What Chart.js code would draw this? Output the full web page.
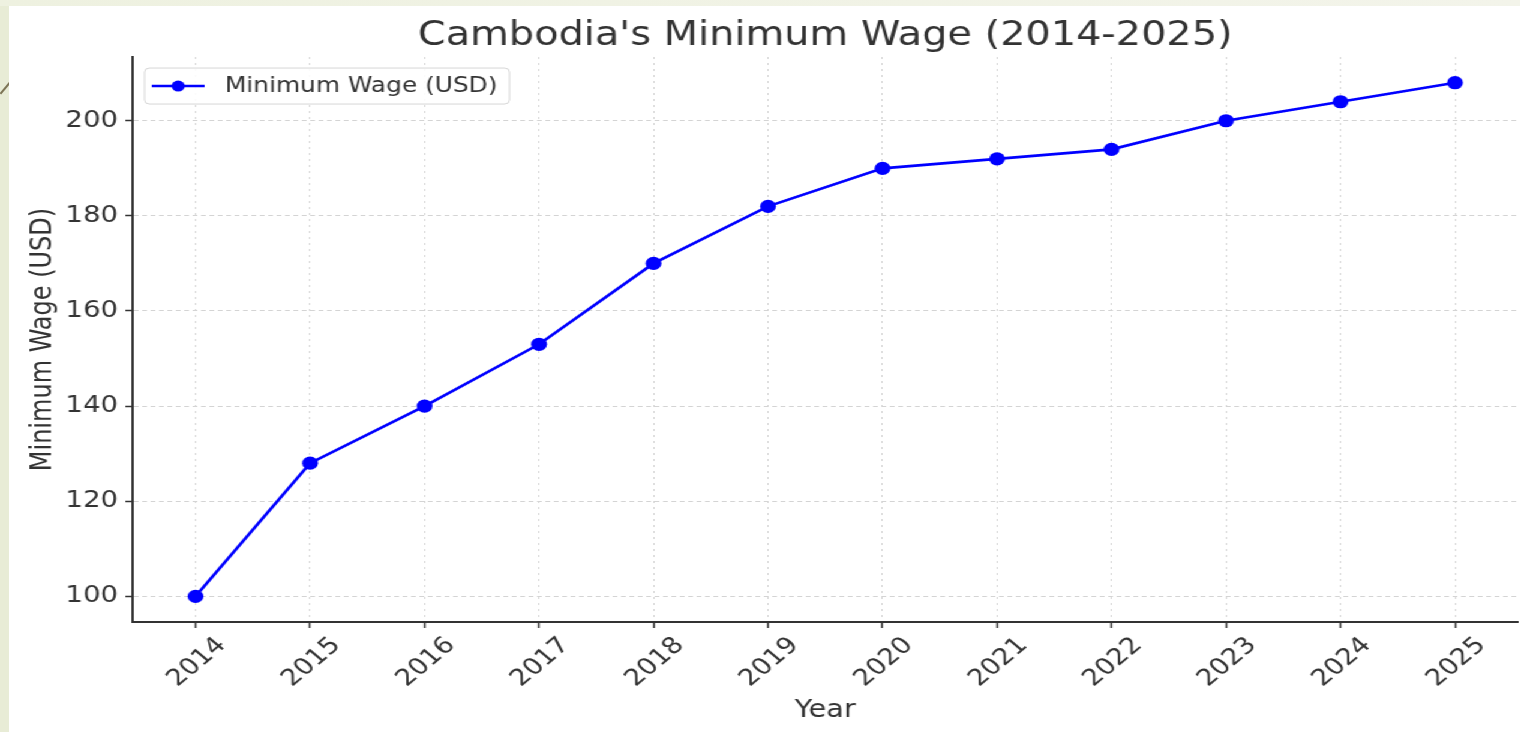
<!DOCTYPE html>
<html>
<head>
<meta charset="utf-8">
<title>Cambodia's Minimum Wage (2014-2025)</title>
<script src="https://cdn.jsdelivr.net/npm/chart.js@4"></script>
<style>
    html, body {
        margin: 0;
        padding: 0;
        width: 1520px;
        height: 732px;
        overflow: hidden;
        background: #e8ecd6;
    }
    #faixaTopo {
        position: absolute;
        left: 0;
        top: 0;
        width: 1520px;
        height: 6px;
        background: linear-gradient(to right, #eef1e0, #f3f4ea);
    }
    #traco {
        position: absolute;
        left: -3px;
        top: 86px;
        width: 18px;
        height: 1.5px;
        background: #7d7556;
        transform: rotate(-50deg);
    }
    #quadro {
        position: absolute;
        left: 9px;
        top: 6px;
        width: 1259px;
        height: 726px;
        background: #ffffff;
        transform: scaleX(1.2);
        transform-origin: left top;
    }
</style>
</head>
<body>
<div id="faixaTopo"></div>
<div id="traco"></div>
<div id="quadro">
    <canvas id="graficoSalario" width="1259" height="726"></canvas>
</div>

<script>
// dados
const anos = [2014, 2015, 2016, 2017, 2018, 2019, 2020, 2021, 2022, 2023, 2024, 2025];
const salarioMinimo = [100, 128, 140, 153, 170, 182, 190, 192, 194, 200, 204, 208];
const ticksY = [100, 120, 140, 160, 180, 200];

const fonte = "'DejaVu Sans', sans-serif";
const corTexto = "#333333";

// legenda dentro da area do grafico, como no matplotlib
const legendaInterna = {
    id: "legendaInterna",
    afterDraw(chart) {
        const ctx = chart.ctx;
        const area = chart.chartArea;
        const ds = chart.data.datasets[0];

        ctx.save();
        ctx.font = "20.7px " + fonte;
        const larguraTexto = ctx.measureText(ds.label).width;
        const x = area.left + 10;
        const y = area.top + 11;
        const w = 6 + 44 + 17 + larguraTexto + 10;
        const h = 36;

        ctx.beginPath();
        if (ctx.roundRect) ctx.roundRect(x, y, w, h, 4);
        else ctx.rect(x, y, w, h);
        ctx.fillStyle = "rgba(255,255,255,0.85)";
        ctx.fill();
        ctx.strokeStyle = "#d6d6d6";
        ctx.lineWidth = 1;
        ctx.stroke();

        const meio = y + h / 2;
        ctx.beginPath();
        ctx.moveTo(x + 6, meio);
        ctx.lineTo(x + 50, meio);
        ctx.strokeStyle = ds.borderColor;
        ctx.lineWidth = 2.5;
        ctx.stroke();

        ctx.beginPath();
        ctx.arc(x + 28, meio, 5.5, 0, Math.PI * 2);
        ctx.fillStyle = ds.pointBackgroundColor;
        ctx.fill();

        ctx.fillStyle = corTexto;
        ctx.textBaseline = "middle";
        ctx.textAlign = "left";
        ctx.fillText(ds.label, x + 67, meio + 1);
        ctx.restore();
    }
};

document.addEventListener("DOMContentLoaded", function () {

    const ctx = document.getElementById("graficoSalario");

    new Chart(ctx, {
        type: "line",
        data: {
            datasets: [{
                label: "Minimum Wage (USD)",
                data: anos.map((ano, i) => ({ x: ano, y: salarioMinimo[i] })),
                borderColor: "#0000ff",
                backgroundColor: "#0000ff",
                pointBackgroundColor: "#0000ff",
                pointBorderWidth: 0,
                pointRadius: 6.6,
                borderWidth: 2.7,
                tension: 0,
                clip: false
            }]
        },
        options: {
            responsive: false,
            animation: false,
            layout: {
                autoPadding: false,
                padding: { left: 0, right: 1.5, top: 0, bottom: 0 }
            },
            plugins: {
                legend: { display: false },
                tooltip: { enabled: false },
                title: {
                    display: true,
                    text: "Cambodia's Minimum Wage (2014-2025)",
                    fullSize: false,
                    color: corTexto,
                    font: { family: fonte, size: 33.2, weight: "normal" },
                    padding: { top: 10.5, bottom: 0.7 }
                }
            },
            scales: {
                x: {
                    type: "linear",
                    min: 2013.45,
                    max: 2025.55,
                    afterBuildTicks: function (scale) {
                        scale.ticks = anos.map(v => ({ value: v }));
                    },
                    afterFit: function (scale) {
                        scale.height = 110;
                        scale.paddingRight = 0;
                        scale.paddingLeft = 0;
                    },
                    ticks: {
                        color: corTexto,
                        font: { family: fonte, size: 23 },
                        minRotation: 45,
                        maxRotation: 45,
                        autoSkip: false,
                        padding: 4,
                        labelOffset: 22,
                        callback: function (value) {
                            return String(value);
                        }
                    },
                    grid: {
                        color: "#d4d4d4",
                        lineWidth: 1,
                        tickLength: 6,
                        tickColor: "#333333",
                        tickWidth: 1.5,
                        tickBorderDash: []
                    },
                    border: { color: "#333333", width: 2, dash: [2, 4] },
                    title: {
                        display: true,
                        text: "Year",
                        color: corTexto,
                        font: { family: fonte, size: 24 },
                        padding: { top: 0, bottom: 6.6 }
                    }
                },
                y: {
                    type: "linear",
                    min: 94.6,
                    max: 213.4,
                    afterBuildTicks: function (scale) {
                        scale.ticks = ticksY.map(v => ({ value: v }));
                    },
                    afterFit: function (scale) {
                        scale.width = 103;
                    },
                    ticks: {
                        color: corTexto,
                        font: { family: fonte, size: 23 },
                        padding: 6
                    },
                    grid: {
                        color: "#d4d4d4",
                        lineWidth: 1,
                        tickLength: 6,
                        tickColor: "#333333",
                        tickWidth: 1.5,
                        tickBorderDash: []
                    },
                    border: { color: "#333333", width: 2, dash: [4, 3] },
                    title: {
                        display: true,
                        text: "Minimum Wage (USD)",
                        color: corTexto,
                        font: { family: fonte, size: 24 },
                        padding: { top: 14, bottom: 0 }
                    }
                }
            }
        },
        plugins: [legendaInterna]
    });

});
</script>
</body>
</html>
